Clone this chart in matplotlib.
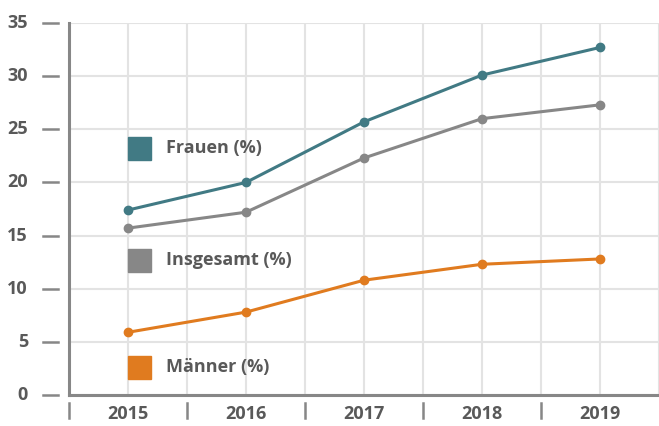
import matplotlib.pyplot as plt
from matplotlib.patches import Rectangle
from matplotlib.transforms import blended_transform_factory

# Data
years = ["2015", "2016", "2017", "2018", "2019"]
frauen = [17.4, 20.0, 25.7, 30.1, 32.7]
insgesamt = [15.7, 17.2, 22.3, 26.0, 27.3]
maenner = [5.9, 7.8, 10.8, 12.3, 12.8]
series_names = ["Frauen (%)", "Insgesamt (%)", "Männer (%)"]

colors = ["#417a84", "#878787", "#e07b1f"]
text_color = "#595959"
plt.rcParams["font.family"] = ["Open Sans", "DejaVu Sans"]
fs = 13

W, H = 659, 426
fig = plt.figure(figsize=(W / 100, H / 100), dpi=100)
ax = fig.add_axes([69 / W, (H - 395) / H, (W - 69) / W, (395 - 23) / H])

x = list(range(len(years)))
for vals, c in zip([frauen, insgesamt, maenner], colors):
    ax.plot(x, vals, color=c, lw=2.2, marker="o", ms=6, zorder=3)

ax.set_xlim(-0.5, 4.454)
ax.set_ylim(0, 35)

# grid: vertical at categories and between them
ax.set_xticks(x)
ax.set_xticks([i - 0.5 for i in range(len(years) + 1)], minor=True)
ax.set_yticks(range(0, 36, 5))
ax.grid(True, which="both", color="#e3e3e3", lw=1.5, zorder=0)
ax.tick_params(which="both", length=0, labelleft=False, labelbottom=False)

for s in ["top", "right"]:
    ax.spines[s].set_visible(False)
for s in ["left", "bottom"]:
    ax.spines[s].set_color("#878787")
    ax.spines[s].set_linewidth(2.2)
    ax.spines[s].set_zorder(4)

# detached tick marks and labels
tx = blended_transform_factory(ax.transData, ax.transAxes)
ty = blended_transform_factory(ax.transAxes, ax.transData)
axw = (W - 69)
axh = (395 - 23)
for v in range(0, 36, 5):
    ax.plot([(43 - 69) / axw, (58 - 69) / axw], [v, v], transform=ty,
            color="#878787", lw=1.8, clip_on=False)
    ax.text((28 - 69) / axw, v, str(v), transform=ty, ha="right", va="center",
            fontsize=fs, fontweight="bold", color=text_color)
for b in range(len(years)):
    xb = b - 0.5
    ax.plot([xb, xb], [-(403 - 395) / axh, -(418 - 395) / axh], transform=tx,
            color="#878787", lw=1.8, clip_on=False)
for i, yl in enumerate(years):
    ax.text(i, -(414 - 395) / axh, yl, transform=tx, ha="center", va="center",
            fontsize=fs, fontweight="bold", color=text_color)

# legend placed beside the lines
leg_y = [148, 260, 367]
for name, c, py in zip(series_names, colors, leg_y):
    fig.patches.append(Rectangle((128 / W, (H - py - 11.5) / H), 23 / W, 23 / H,
                                 transform=fig.transFigure, color=c))
    fig.text(166 / W, (H - py) / H, name, ha="left", va="center",
             fontsize=fs, fontweight="bold", color=text_color)

fig.savefig("out.png", dpi=100)
